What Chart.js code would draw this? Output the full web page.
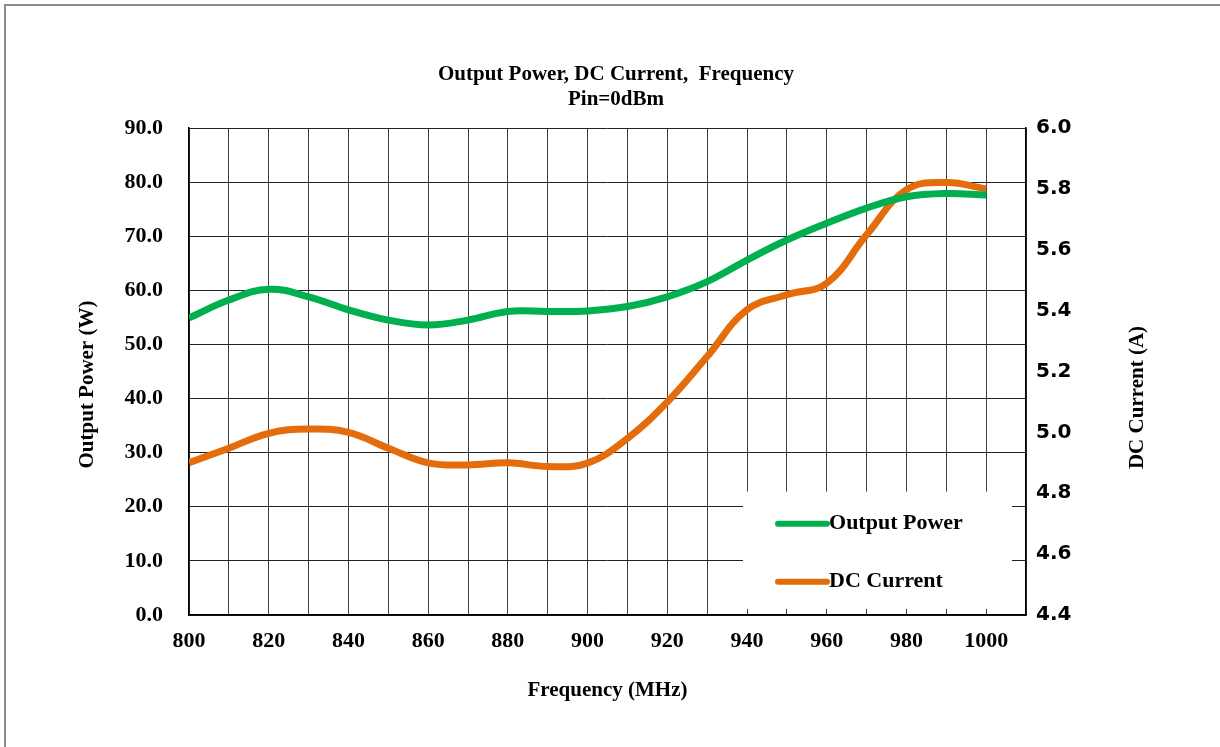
<!DOCTYPE html>
<html>
<head>
<meta charset="utf-8">
<script src="https://cdn.jsdelivr.net/npm/chart.js@4.4.1/dist/chart.umd.min.js"></script>
<style>
  html, body { margin: 0; padding: 0; background: #ffffff; }
  #wrap { width: 1220px; height: 747px; position: relative; }
</style>
</head>
<body>
<div id="wrap"><canvas id="c" width="1220" height="747"></canvas></div>
<script>
// ---- data ----
const frequencies = [800, 810, 820, 830, 840, 850, 860, 870, 880, 890, 900, 910, 920, 930, 940, 950, 960, 970, 980, 990, 1000];
const outputPower = [54.9, 58.2, 60.2, 58.8, 56.4, 54.5, 53.6, 54.5, 56.1, 56.1, 56.2, 57.0, 58.8, 61.6, 65.6, 69.3, 72.4, 75.2, 77.3, 77.9, 77.6];
const dcCurrent = [4.90, 4.948, 4.997, 5.011, 5.00, 4.948, 4.90, 4.893, 4.90, 4.888, 4.899, 4.98, 5.10, 5.249, 5.403, 5.452, 5.49, 5.649, 5.797, 5.821, 5.80];
const seriesNames = ['Output Power', 'DC Current'];
const titleLines = ['Output Power, DC Current,  Frequency', 'Pin=0dBm'];
const xAxisTitle = 'Frequency (MHz)';
const yAxisTitle = 'Output Power (W)';
const y1AxisTitle = 'DC Current (A)';

const GREEN = '#00B050';
const ORANGE = '#E46C0A';
const SERIF = '"Liberation Serif", "Times New Roman", serif';
const SANS = '"DejaVu Sans", Verdana, sans-serif';

const PAD = { left: 12, right: 0, top: 63, bottom: 0 };
const AREA = { left: 189, right: 1026, top: 128, bottom: 615 };

const toPts = (ys) => frequencies.map((f, i) => ({ x: f, y: ys[i] }));

const framePlugin = {
  id: 'frame',
  beforeDraw(chart) {
    const ctx = chart.ctx;
    ctx.save();
    ctx.fillStyle = '#ffffff';
    ctx.fillRect(0, 0, chart.width, chart.height);
    ctx.strokeStyle = '#8c8c8c';
    ctx.lineWidth = 2;
    ctx.beginPath();
    ctx.moveTo(5, chart.height);
    ctx.lineTo(5, 5);
    ctx.lineTo(chart.width, 5);
    ctx.stroke();
    ctx.restore();
  }
};

// vertical axis titles, both reading bottom-to-top as in the reference
const axisTitles = {
  id: 'axisTitles',
  afterDraw(chart) {
    const ctx = chart.ctx;
    const ys = chart.scales.y;
    const mid = (ys.top + ys.bottom) / 2;
    ctx.save();
    ctx.fillStyle = '#000000';
    ctx.font = 'bold 21px ' + SERIF;
    ctx.textAlign = 'center';
    ctx.textBaseline = 'middle';
    [[yAxisTitle, chart.scales.y.left + 76, mid + 13], [y1AxisTitle, chart.scales.y1.right - 82, mid + 26]].forEach(([t, x, y]) => {
      ctx.save();
      ctx.translate(x, y);
      ctx.rotate(-Math.PI / 2);
      ctx.fillText(t, 0, 0);
      ctx.restore();
    });
    ctx.restore();
  }
};

const boxLegend = {
  id: 'boxLegend',
  beforeDatasetsDraw(chart) {
    const ctx = chart.ctx;
    const xs = chart.scales.x, ys = chart.scales.y;
    const left = xs.getPixelForValue(939);
    const right = xs.getPixelForValue(1006.5);
    const top = ys.getPixelForValue(22.8);
    const bottom = ys.getPixelForValue(1.1);
    ctx.save();
    ctx.fillStyle = '#ffffff';
    ctx.fillRect(left, top, right - left, bottom - top);
    const items = [
      { label: seriesNames[0], color: GREEN, y: top + 32 },
      { label: seriesNames[1], color: ORANGE, y: top + 90 }
    ];
    ctx.font = 'bold 22px ' + SERIF;
    ctx.textBaseline = 'middle';
    ctx.textAlign = 'left';
    items.forEach(it => {
      ctx.strokeStyle = it.color;
      ctx.lineWidth = 6;
      ctx.lineCap = 'round';
      ctx.beginPath();
      ctx.moveTo(left + 35, it.y);
      ctx.lineTo(left + 84, it.y);
      ctx.stroke();
      ctx.fillStyle = '#000000';
      ctx.fillText(it.label, left + 86, it.y);
    });
    ctx.restore();
  }
};

new Chart(document.getElementById('c'), {
  type: 'line',
  data: {
    datasets: [
      {
        label: seriesNames[0],
        data: toPts(outputPower),
        borderColor: GREEN,
        backgroundColor: GREEN,
        borderWidth: 7,
        pointRadius: 0,
        tension: 0.4,
        yAxisID: 'y'
      },
      {
        label: seriesNames[1],
        data: toPts(dcCurrent),
        borderColor: ORANGE,
        backgroundColor: ORANGE,
        borderWidth: 7,
        pointRadius: 0,
        tension: 0.4,
        yAxisID: 'y1'
      }
    ]
  },
  options: {
    responsive: false,
    animation: false,
    devicePixelRatio: 1,
    layout: { padding: PAD },
    plugins: {
      legend: { display: false },
      tooltip: { enabled: false },
      title: {
        display: true,
        text: titleLines,
        color: '#000000',
        font: { family: SERIF, size: 21, weight: 'bold', lineHeight: 1.15 },
        padding: { top: 0, bottom: 16.7 }
      }
    },
    scales: {
      x: {
        type: 'linear',
        min: 800,
        max: 1010,
        afterFit(s) { s.height = 747 - PAD.bottom - AREA.bottom; },
        ticks: {
          stepSize: 10,
          autoSkip: false,
          maxRotation: 0,
          padding: 13,
          color: '#000000',
          font: { family: SERIF, size: 22, weight: 'bold' },
          callback: (v) => (v % 20 === 0 && v <= 1000) ? String(v) : ''
        },
        grid: { color: '#404040', lineWidth: 1, drawTicks: false },
        border: { color: '#000000', width: 1.5 },
        title: {
          display: true,
          text: xAxisTitle,
          color: '#000000',
          font: { family: SERIF, size: 21, weight: 'bold', lineHeight: 1.2 },
          padding: { top: 0, bottom: 44 }
        }
      },
      y: {
        position: 'left',
        min: 0,
        max: 90,
        afterFit(s) { s.width = AREA.left - PAD.left; },
        ticks: {
          stepSize: 10,
          padding: 26,
          color: '#000000',
          font: { family: SERIF, size: 22, weight: 'bold' },
          callback: (v) => Number(v).toFixed(1)
        },
        grid: { color: '#202020', lineWidth: 1, drawTicks: false },
        border: { color: '#000000', width: 1.5 }
      },
      y1: {
        position: 'right',
        min: 4.4,
        max: 6.0,
        afterFit(s) { s.width = 1220 - PAD.right - AREA.right; },
        ticks: {
          stepSize: 0.2,
          padding: 10,
          color: '#000000',
          font: { family: SANS, size: 20, weight: 'bold' },
          callback: (v) => Number(v).toFixed(1)
        },
        grid: { display: false, drawTicks: false },
        border: { color: '#000000', width: 1.5 }
      }
    }
  },
  plugins: [framePlugin, boxLegend, axisTitles]
});
</script>
</body>
</html>
